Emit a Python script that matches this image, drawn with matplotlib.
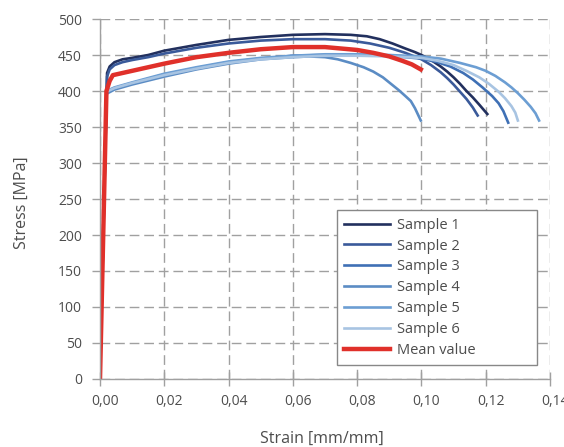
import matplotlib.pyplot as plt
from matplotlib.ticker import FuncFormatter
from matplotlib.transforms import ScaledTranslation

plt.rcParams['font.family'] = ['Open Sans', 'DejaVu Sans']

# stress-strain curves, strain [mm/mm] vs stress [MPa]
s1_strain = [0, 0.0022, 0.003, 0.0045, 0.007, 0.01, 0.015, 0.02, 0.03, 0.04, 0.05, 0.06, 0.07, 0.078,
             0.083, 0.087, 0.091, 0.095, 0.098, 0.10, 0.103, 0.106, 0.108, 0.110, 0.112, 0.114, 0.116,
             0.118, 0.1205]
s1_stress = [0, 425, 434, 440, 444, 446, 450, 456, 464, 471, 475, 478, 479, 478,
             476, 472, 466, 459, 454, 450, 443, 434, 427, 419, 410, 400, 391, 381, 368]

s2_strain = [0, 0.0022, 0.003, 0.0045, 0.007, 0.01, 0.015, 0.02, 0.03, 0.04, 0.05, 0.06, 0.07, 0.078,
             0.084, 0.09, 0.095, 0.10, 0.103, 0.106, 0.108, 0.110, 0.112, 0.114, 0.116, 0.1175]
s2_stress = [0, 420, 430, 436, 440, 443, 447, 452, 460, 466, 470, 472, 472, 470,
             466, 460, 453, 444, 436, 426, 418, 409, 399, 389, 377, 366]

s3_strain = [0, 0.002, 0.0045, 0.01, 0.02, 0.03, 0.04, 0.05, 0.06, 0.07, 0.08, 0.09, 0.10,
             0.105, 0.109, 0.113, 0.116, 0.119, 0.122, 0.124, 0.1255, 0.127]
s3_stress = [0, 398, 404, 411, 423, 432, 440, 445, 449, 450, 450, 449, 445,
             440, 434, 425, 416, 405, 393, 383, 372, 356]

s4_strain = [0, 0.002, 0.0045, 0.01, 0.02, 0.03, 0.04, 0.05, 0.06, 0.065, 0.07, 0.074, 0.078,
             0.082, 0.085, 0.088, 0.0905, 0.093, 0.095, 0.0967, 0.098, 0.0998]
s4_stress = [0, 396, 402, 409, 420, 430, 438, 444, 447, 448, 447, 444, 439,
             433, 427, 419, 410, 401, 393, 386, 376, 359]

s5_strain = [0, 0.002, 0.0045, 0.01, 0.02, 0.03, 0.04, 0.05, 0.06, 0.07, 0.08, 0.09, 0.10,
             0.106, 0.112, 0.117, 0.12, 0.123, 0.126, 0.128, 0.130, 0.132, 0.134, 0.1355, 0.1366]
s5_stress = [0, 400, 405, 412, 424, 433, 441, 446, 449, 451, 451, 450, 448,
             445, 439, 433, 428, 421, 412, 405, 397, 388, 378, 369, 359]

s6_strain = [0, 0.002, 0.0045, 0.01, 0.02, 0.03, 0.04, 0.05, 0.06, 0.07, 0.08, 0.09, 0.10,
             0.105, 0.11, 0.114, 0.118, 0.121, 0.124, 0.126, 0.128, 0.1292, 0.130]
s6_stress = [0, 399, 404, 411, 422, 431, 439, 444, 447, 449, 449, 448, 446,
             442, 436, 428, 419, 410, 399, 390, 379, 370, 359]

mean_strain = [0, 0.002, 0.003, 0.004, 0.01, 0.02, 0.03, 0.04, 0.05, 0.06, 0.07, 0.08, 0.085,
               0.09, 0.094, 0.097, 0.0998]
mean_stress = [0, 400, 414, 422, 428, 438, 447, 453, 458, 461, 461, 457, 453,
               448, 442, 437, 430]

labels = ['Sample 1', 'Sample 2', 'Sample 3', 'Sample 4', 'Sample 5', 'Sample 6']
colors = ['#22305e', '#3a5a9a', '#3f70b5', '#5b8cc4', '#6c9ed3', '#a8c4e2']
curves = [(s1_strain, s1_stress), (s2_strain, s2_stress), (s3_strain, s3_stress),
          (s4_strain, s4_stress), (s5_strain, s5_stress), (s6_strain, s6_stress)]

txt = '#4d4d4d'
gridc = '#a0a0a0'

fig = plt.figure(figsize=(5.64, 4.47), dpi=100)
ax = fig.add_axes([100/564, 1 - 379/447, 450/564, 360/447])

for (x, y), c, lab in zip(curves, colors, labels):
    ax.plot(x, y, color=c, lw=1.9, label=lab, solid_joinstyle='round')
ax.plot(mean_strain, mean_stress, color='#e0302a', lw=3.2, label='Mean value', solid_joinstyle='round')

ax.set_xlim(0, 0.14)
ax.set_ylim(0, 500)
ax.set_xticks([0, 0.02, 0.04, 0.06, 0.08, 0.10, 0.12, 0.14])
ax.set_yticks(range(0, 501, 50))
ax.xaxis.set_major_formatter(FuncFormatter(lambda v, p: f'{v:.2f}'.replace('.', ',')))

ax.grid(True, color=gridc, lw=1.0, linestyle=(0, (7, 3.5)))
ax.set_axisbelow(True)
for side in ['top', 'right']:
    ax.spines[side].set_visible(False)
for side in ['left', 'bottom']:
    ax.spines[side].set_color(gridc)
    ax.spines[side].set_linewidth(1.0)

ax.tick_params(axis='y', direction='out', length=6, width=1, color=gridc, pad=7, labelsize=10, labelcolor=txt)
ax.tick_params(axis='x', direction='inout', length=10, width=1, color=gridc, pad=6, labelsize=10, labelcolor=txt)

# x tick labels sit a little right of their ticks
shift = ScaledTranslation(5/100, 0, fig.dpi_scale_trans)
for lbl in ax.get_xticklabels():
    lbl.set_transform(lbl.get_transform() + shift)

ax.set_xlabel('Strain [mm/mm]', fontsize=11.5, color=txt)
ax.set_ylabel('Stress [MPa]', fontsize=11.5, color=txt)
ax.xaxis.set_label_coords(0.493, -0.143)
ax.yaxis.set_label_coords(-0.155, 0.49)

leg = ax.legend(loc='lower left', bbox_to_anchor=(0.527, 0.039, 0.444, 0.43), mode='expand',
                borderaxespad=0, fontsize=10.5, handlelength=3.1, handletextpad=0.5, labelspacing=0.4,
                fancybox=False, framealpha=1, edgecolor='#888888', borderpad=0.5)
leg.get_frame().set_linewidth(1.0)
for t in leg.get_texts():
    t.set_color(txt)

fig.savefig('out.png', dpi=100)
